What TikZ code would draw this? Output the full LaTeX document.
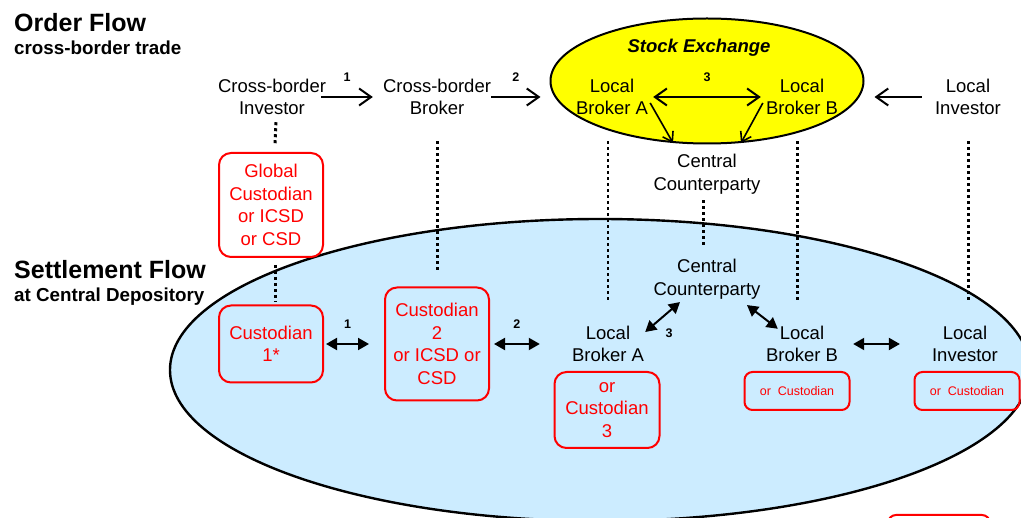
\documentclass[tikz,border=0pt]{standalone}
\usepackage{fontspec}
\setmainfont{Liberation Sans}
\usepackage{tikz}
\usetikzlibrary{positioning, shapes.geometric, arrows.meta}
\definecolor{DepoBlue}{RGB}{204,236,255}
\definecolor{ExchYellow}{RGB}{255,255,0}
\definecolor{BoxRed}{RGB}{255,0,0}

\begin{document}
\begin{tikzpicture}[x=1pt, y=-1pt,
    txt/.style={align=center, inner sep=0pt, font=\fontsize{18.5}{22.5}\selectfont},
    redbox/.style={draw=BoxRed, line width=2pt, rounded corners=12pt, text=BoxRed, align=center, inner sep=0pt, font=\fontsize{18.5}{22.5}\selectfont},
    ttl/.style={anchor=base west, inner sep=0pt, font=\fontsize{25}{27}\selectfont\bfseries},
    subttl/.style={anchor=base west, inner sep=0pt, font=\fontsize{18.8}{21}\selectfont\bfseries},
    num/.style={inner sep=0pt, font=\fontsize{12.5}{13}\selectfont\bfseries},
    ordarr/.style={line width=2pt, -{Straight Barb[length=12pt, width=17pt]}},
    dblarr/.style={line width=2pt, {Straight Barb[length=12pt, width=17pt]}-{Straight Barb[length=12pt, width=17pt]}},
    ccparr/.style={line width=1.6pt, -{Straight Barb[length=9pt, width=12pt]}},
    setarr/.style={line width=2pt, {Triangle[length=11pt, width=12pt]}-{Triangle[length=11pt, width=12pt]}},
    dots/.style={line width=3pt, dash pattern=on 3pt off 3pt}]

    \useasboundingbox (0,0) rectangle (1021,518);
    \clip (0,0) rectangle (1021,518);

    % Depository and exchange
    \node[ellipse, draw, line width=2.4pt, fill=DepoBlue, minimum width=860pt, minimum height=302pt, inner sep=0pt] (depo) at (600,370) {};
    \node[ellipse, draw, line width=2pt, fill=ExchYellow, minimum width=313pt, minimum height=125pt, inner sep=0pt] (exch) at (707,81) {};

    % Titles
    \node[ttl] (ttlOrd) at (14,32) {Order Flow};
    \node[subttl] (subOrd) at (14,55) {cross-border trade};
    \node[ttl] (ttlSet) at (14,279) {Settlement Flow};
    \node[subttl] (subSet) at (14,302) {at Central Depository};

    % Order flow
    \node[txt] (inv) at (272,97) {Cross-border\\Investor};
    \node[txt] (xbrk) at (437,97) {Cross-border\\Broker};
    \node[anchor=base, inner sep=0pt, font=\fontsize{18.5}{22}\selectfont\bfseries\itshape] (exchTtl) at (699,53) {Stock Exchange};
    \node[txt] (lbrkA) at (612,97) {Local\\Broker A};
    \node[txt] (lbrkB) at (802,97) {Local\\Broker B};
    \node[txt] (ccpTop) at (707,174) {Central\\Counterparty};
    \node[txt] (linv) at (968,97) {Local\\Investor};

    \draw[ordarr] ([shift={(-5,0)}]inv.east) -- ([shift={(-10,0)}]xbrk.west) node[num, midway, above=14pt] (n1o) {1};
    \draw[ordarr] (xbrk.east) -- ([shift={(-9,0)}]exch.west |- xbrk.east) node[num, midway, above=14pt] (n2o) {2};
    \draw[dblarr] ([shift={(5,0)}]lbrkA.east) -- ([shift={(-5,0)}]lbrkB.west) node[num, midway, above=14pt] (n3o) {3};
    \draw[ccparr] ([shift={(2,6)}]lbrkA.east) -- ([shift={(-34,-11)}]ccpTop.north);
    \draw[ccparr] ([shift={(-3,6)}]lbrkB.west) -- ([shift={(34,-11)}]ccpTop.north);
    \draw[ordarr] ([shift={(-13,0)}]linv.west) -- ([shift={(10,0)}]exch.east |- linv.west);

    % Settlement flow
    \node[redbox, minimum width=104pt, minimum height=104pt] (gcust) at (271,205) {Global\\Custodian\\or ICSD\\or CSD};
    \node[redbox, minimum width=104pt, minimum height=77pt] (cust1) at (271,344) {Custodian\\1*};
    \node[redbox, minimum width=104pt, minimum height=113pt] (cust2) at (437,344) {Custodian\\2\\or ICSD or\\CSD};
    \node[txt] (lbrkAs) at (608,344) {Local\\Broker A};
    \node[redbox, minimum width=105pt, minimum height=76pt] (cust3) at (607,410) {or\\Custodian\\3};
    \node[txt] (ccpBot) at (707,279) {Central\\Counterparty};
    \node[txt] (lbrkBs) at (802,344) {Local\\Broker B};
    \node[redbox, rounded corners=8pt, minimum width=105pt, minimum height=38pt, font=\fontsize{12.5}{14}\selectfont] (custB) at (797,391) {or~~Custodian};
    \node[txt] (linvS) at (965,344) {Local\\Investor};
    \node[redbox, rounded corners=8pt, minimum width=105pt, minimum height=38pt, font=\fontsize{12.5}{14}\selectfont] (custI) at (967,391) {or~~Custodian};
    \node[redbox, rounded corners=8pt, minimum width=102pt, minimum height=40pt] (custX) at (939,535) {};

    \draw[setarr] ([shift={(2,0)}]cust1.east) -- ([shift={(-15,0)}]cust2.west) node[num, midway, above=14pt] (n1s) {1};
    \draw[setarr] ([shift={(4,0)}]cust2.east) -- ([shift={(-32,0)}]lbrkAs.west) node[num, midway, above=14pt] (n2s) {2};
    \draw[setarr] ([shift={(1,-12)}]lbrkAs.east) -- ([shift={(-27,3)}]ccpBot.south);
    \node[num] (n3s) at (669,333) {3};
    \draw[setarr] ([shift={(40,6)}]ccpBot.south) -- ([shift={(12,3)}]lbrkBs.north west);
    \draw[setarr] ([shift={(15,0)}]lbrkBs.east) -- ([shift={(-32,0)}]linvS.west);

    % Dotted links
    \draw[dots] ([shift={(4,7)}]inv.south) -- ([shift={(4,-6)}]gcust.north);
    \draw[dots] ([shift={(4,7)}]gcust.south) -- ([shift={(4,-3)}]cust1.north);
    \draw[dots] ([shift={(0,26)}]xbrk.south) -- ([shift={(0,-14)}]cust2.north);
    \draw[dots, line width=2pt] ([shift={(-4,26)}]lbrkA.south) -- ([shift={(0,-23)}]lbrkAs.north);
    \draw[dots] ([shift={(-4,6)}]ccpTop.south) -- ([shift={(-4,-14)}]ccpBot.north);
    \draw[dots] ([shift={(-5,26)}]lbrkB.south) -- ([shift={(-5,-23)}]lbrkBs.north);
    \draw[dots] ([shift={(0,26)}]linv.south) -- ([shift={(3,-23)}]linvS.north);
\end{tikzpicture}
\end{document}
